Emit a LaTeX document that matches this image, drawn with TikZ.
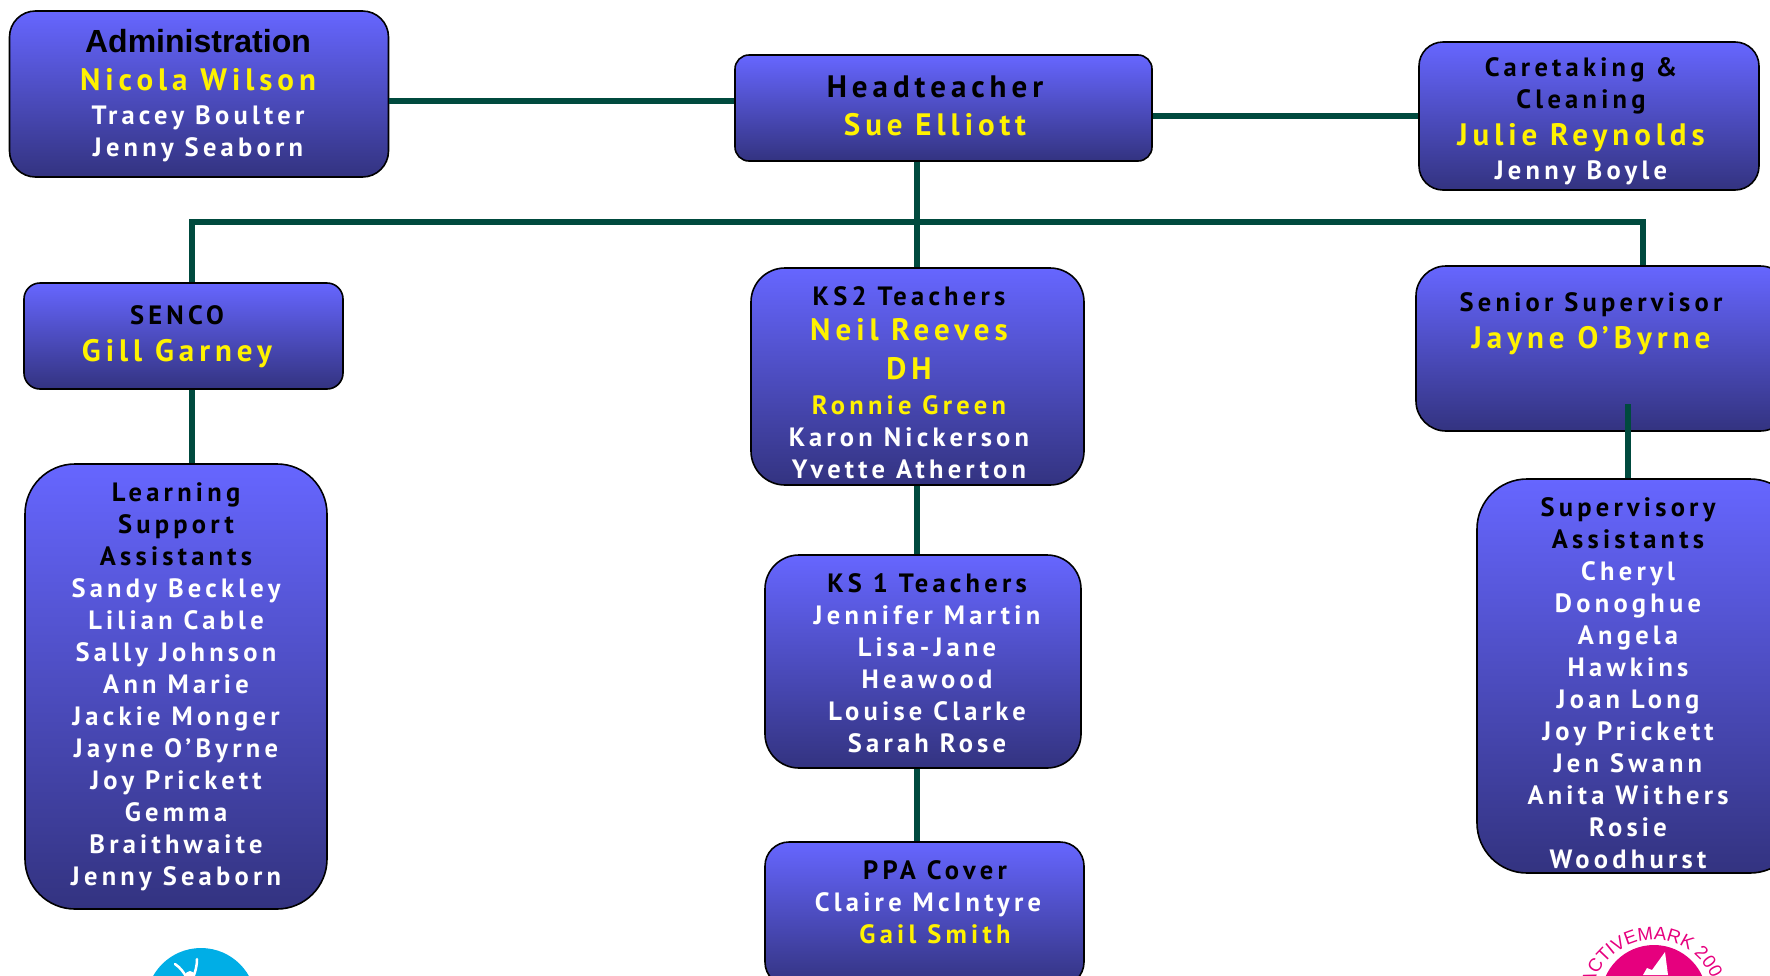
\documentclass[tikz,border=0pt]{standalone}
\usepackage{fontspec}
\setmainfont[LetterSpace=16]{PT Sans}
\newfontfamily\arialfont{Liberation Sans}
\usetikzlibrary{positioning,decorations.text}
\definecolor{linkgreen}{HTML}{004A3E}
\definecolor{boxtop}{HTML}{6666FF}
\definecolor{boxbottom}{HTML}{333380}
\definecolor{logoblue}{HTML}{00AEE6}
\definecolor{logopink}{HTML}{E6007E}
\newcommand{\blackline}[1]{\fontsize{26.5}{32}\selectfont\bfseries\textcolor{black}{#1}}
\newcommand{\whiteline}[1]{\fontsize{26.5}{32}\selectfont\bfseries\textcolor{white}{#1}}
\newcommand{\yellowline}[1]{\fontsize{26.5}{32}\selectfont\bfseries\textcolor{yellow}{#1}}
\newcommand{\bigyellow}[1]{\fontsize{31}{32}\selectfont\bfseries\textcolor{yellow}{#1}}
\begin{document}
\begin{tikzpicture}[x=1pt, y=-1pt,
	staffbox/.style={rectangle, draw=black, line width=1.6pt, top color=boxtop, bottom color=boxbottom, inner sep=0pt},
	stafftext/.style={align=center, inner sep=0pt, font=\fontsize{26.5}{32}\selectfont},
	link/.style={draw=linkgreen, line width=6pt}]
	\clip (0,0) rectangle (1770,975);

	% Logos
	\fill[logoblue] (201,1003) circle (55);
	\draw[white, line width=2.5pt, line cap=round] (175,964) .. controls (181,968) and (184,973) .. (187,978);
	\draw[white, line width=2.5pt, line cap=round] (197,959) .. controls (197,967) and (195,972) .. (193,978);
	\fill[white] (190,976) circle (5);
	\fill[logopink] (1654,998) circle (53);
	\fill[white] (1665,952) -- (1668,975) -- (1643,975) -- (1647,968) -- (1652,970) -- cycle;
	\path[decorate, decoration={text along path, text={|\arialfont\fontsize{18.5}{19}\selectfont\color{logopink}|ACTIVEMARK 200}, text align=left}]
		(1593,986.7) arc[start angle=165, end angle=10, x radius=63, y radius=-63];

	% Top row
	\node[staffbox, rounded corners=26pt, minimum width=379pt, minimum height=166pt] (admin) at (199,94) {};
	\node[stafftext] (admintext) at (198,95.5) {{\arialfont\fontsize{32}{32}\selectfont\bfseries\textcolor{black}{Administration}}\\[6pt]
		\bigyellow{Nicola Wilson}\\[2pt]\whiteline{Tracey Boulter}\\\whiteline{Jenny Seaborn}};
	\node[staffbox, rounded corners=14pt, minimum width=417pt, minimum height=106pt] (head) at (943.5,108) {};
	\node[stafftext] (headtext) at (935,106) {\fontsize{31}{32}\selectfont\bfseries\textcolor{black}{Headteacher}\\[6pt]\bigyellow{Sue Elliott}};
	\node[staffbox, rounded corners=24pt, minimum width=340pt, minimum height=148pt] (care) at (1589,116) {};
	\node[stafftext] (caretext) at (1581,121.5) {\blackline{Caretaking \&}\\\blackline{Cleaning}\\[5pt]\bigyellow{Julie Reynolds}\\[2pt]\whiteline{Jenny Boyle}};

	% Left column
	\node[staffbox, rounded corners=16pt, minimum width=319pt, minimum height=106pt] (senco) at (183.5,336) {};
	\node[stafftext] (sencotext) at (177,337) {\blackline{SENCO}\\[5pt]\bigyellow{Gill Garney}};
	\node[staffbox, rounded corners=50pt, minimum width=302pt, minimum height=445pt] (lsa) at (176,686.5) {};
	\node[stafftext] (lsatext) at (176,687) {\blackline{Learning}\\\blackline{Support}\\\blackline{Assistants}\\
		\whiteline{Sandy Beckley}\\\whiteline{Lilian Cable}\\\whiteline{Sally Johnson}\\\whiteline{Ann Marie}\\\whiteline{Jackie Monger}\\
		\whiteline{Jayne O’Byrne}\\\whiteline{Joy Prickett}\\\whiteline{Gemma}\\\whiteline{Braithwaite}\\\whiteline{Jenny Seaborn}};

	% Middle column
	\node[staffbox, rounded corners=34pt, minimum width=333pt, minimum height=217pt] (ks2) at (917.5,376.5) {};
	\node[stafftext] (ks2text) at (909,382.5) {\blackline{KS2 Teachers}\\[3pt]\bigyellow{Neil Reeves}\\[7pt]\bigyellow{DH}\\[3pt]
		\yellowline{Ronnie Green}\\\whiteline{Karon Nickerson}\\\whiteline{Yvette Atherton}};
	\node[staffbox, rounded corners=34pt, minimum width=316pt, minimum height=213pt] (ks1) at (923,661.5) {};
	\node[stafftext] (ks1text) at (927,663) {\blackline{KS 1 Teachers}\\\whiteline{Jennifer Martin}\\\whiteline{Lisa-Jane}\\\whiteline{Heawood}\\
		\whiteline{Louise Clarke}\\\whiteline{Sarah Rose}};
	\node[staffbox, rounded corners=24pt, minimum width=319pt, minimum height=144pt] (ppa) at (924.5,914) {};
	\node[stafftext] (ppatext) at (928,902) {\hspace*{14pt}\blackline{PPA Cover}\\\whiteline{Claire McIntyre}\\\hspace*{14pt}\yellowline{Gail Smith}};

	% Right column
	\node[staffbox, rounded corners=30pt, minimum width=374pt, minimum height=165pt] (senior) at (1603,348.5) {};
	\node[stafftext] (seniortext) at (1591,324) {\blackline{Senior Supervisor}\\[5pt]\bigyellow{Jayne O’Byrne}};
	\node[staffbox, rounded corners=50pt, minimum width=323pt, minimum height=394pt] (sup) at (1638.5,676) {};
	\node[stafftext] (suptext) at (1628,683) {\blackline{Supervisory}\\\blackline{Assistants}\\\whiteline{Cheryl}\\\whiteline{Donoghue}\\\whiteline{Angela}\\\whiteline{Hawkins}\\
		\whiteline{Joan Long}\\\whiteline{Joy Prickett}\\\whiteline{Jen Swann}\\\whiteline{Anita Withers}\\\whiteline{Rosie}\\\whiteline{Woodhurst}};

	% Connections
	\coordinate (busleft) at (192,222);
	\coordinate (busmid) at (917,222);
	\coordinate (busright) at (1643,222);
	\coordinate (adminend) at (0,101);
	\coordinate (careend) at (0,116);
	\coordinate (supline) at (1628,404);
	\draw[link] (admin.east |- adminend) -- (head.west |- adminend);
	\draw[link] (head.east |- careend) -- (care.west |- careend);
	\draw[link] (head.south -| busmid) -- (ks2.north -| busmid);
	\draw[link] (senco.north -| busleft) |- (busright) -- (senior.north -| busright);
	\draw[link] (senco.south -| busleft) -- (lsa.north -| busleft);
	\draw[link] (ks2.south -| busmid) -- (ks1.north -| busmid);
	\draw[link] (ks1.south -| busmid) -- (ppa.north -| busmid);
	\draw[link] (supline) -- (sup.north -| supline);
\end{tikzpicture}
\end{document}
